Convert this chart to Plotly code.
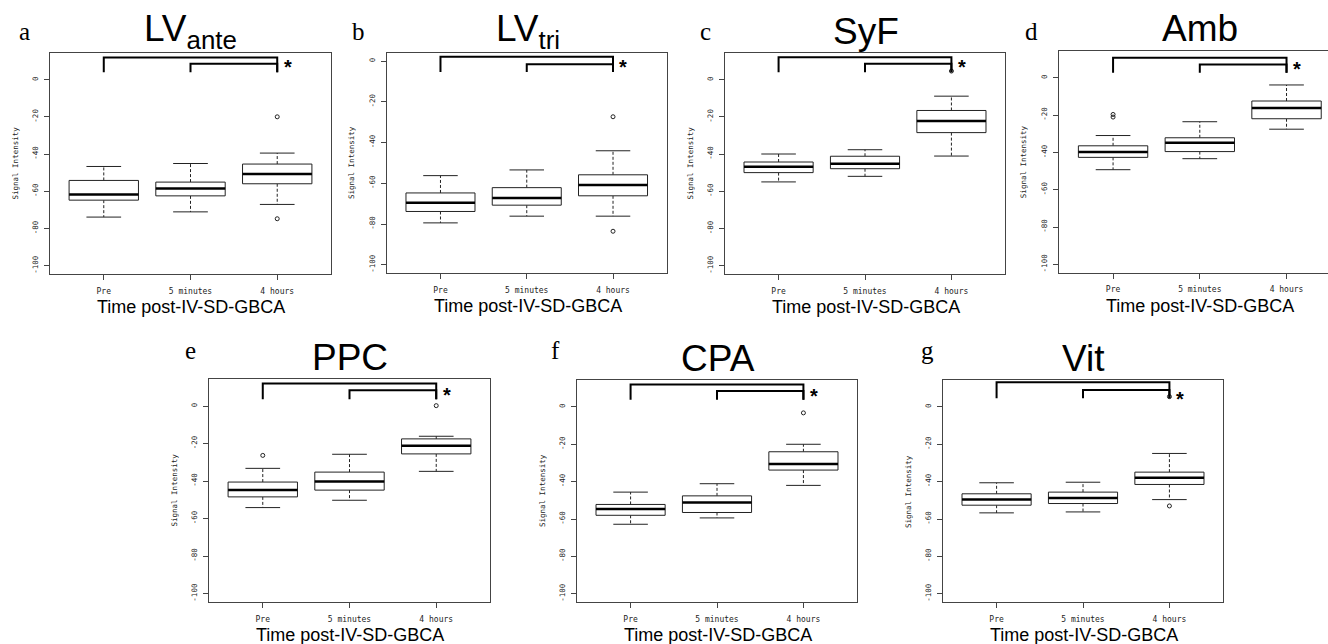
import plotly.graph_objects as go

W, H = 1328, 644

groups = ["Pre", "5 minutes", "4 hours"]
panel_letters = ["a", "b", "c", "d", "e", "f", "g"]
panel_titles = ["LV<sub>ante</sub>", "LV<sub>tri</sub>", "SyF", "Amb", "PPC", "CPA", "Vit"]

# box statistics per panel, each list = [Pre, 5 minutes, 4 hours]
whisker_low = [
    [-73.8, -71.0, -67.0],
    [-79.4, -76.1, -76.1],
    [-54.9, -51.9, -41.0],
    [-49.2, -43.3, -27.5],
    [-54.1, -50.2, -34.8],
    [-62.8, -59.4, -42.0],
    [-56.7, -56.2, -49.6],
]
quart1 = [
    [-64.7, -62.4, -55.9],
    [-73.8, -70.7, -66.1],
    [-49.9, -47.8, -28.4],
    [-42.6, -39.5, -21.9],
    [-48.4, -44.8, -25.5],
    [-58.0, -56.5, -33.8],
    [-52.6, -51.7, -41.5],
]
medians = [
    [-61.6, -58.4, -50.7],
    [-69.5, -67.2, -60.8],
    [-46.7, -45.1, -22.2],
    [-39.7, -34.8, -16.2],
    [-44.8, -40.2, -21.1],
    [-54.6, -51.2, -30.6],
    [-49.6, -48.7, -37.9],
]
quart3 = [
    [-54.1, -55.0, -45.3],
    [-64.7, -62.1, -55.8],
    [-44.2, -41.1, -16.5],
    [-36.4, -32.1, -12.4],
    [-40.5, -35.2, -17.5],
    [-52.2, -47.6, -24.0],
    [-46.5, -45.6, -34.9],
]
whisker_high = [
    [-46.6, -45.0, -39.4],
    [-56.2, -53.4, -44.0],
    [-39.9, -37.6, -8.8],
    [-30.9, -23.5, -3.8],
    [-33.2, -25.7, -16.1],
    [-45.6, -41.1, -20.0],
    [-40.6, -40.3, -24.9],
]
# outliers: (group index, value)
outliers = [
    [(2, -19.9), (2, -74.7)],
    [(2, -27.3), (2, -83.5)],
    [(2, 4.7)],
    [(0, -19.6), (0, -21.0)],
    [(0, -26.3), (2, 0.2)],
    [(2, -3.2)],
    [(2, 5.5), (2, -53.0)],
]
# significance brackets: [leg bottom, inner top, outer top], asterisk y
bracket_levels = [
    [4.0, 8.6, 12.0],
    [-5.3, -1.5, 2.1],
    [4.1, 8.6, 12.1],
    [2.7, 7.2, 10.8],
    [3.6, 8.4, 12.0],
    [3.8, 8.5, 12.0],
    [4.7, 9.1, 13.2],
]
asterisk_y = [9.0, -1.0, 9.2, 6.8, 8.0, 8.0, 6.4]
y_limits = [[-100, 10], [-100, 0], [-100, 10], [-100, 10], [-100, 10], [-100, 10], [-100, 10]]
y_ticks = [0, -20, -40, -60, -80, -100]

# layout in pixels: left, right, top, bottom
panel_px = [
    (50, 331, 53, 274),
    (387, 666.5, 53, 273),
    (725, 1005, 53, 274),
    (1059.3, 1328, 51, 272.7),
    (209, 490, 379, 602),
    (577, 857, 380, 602),
    (943, 1223, 380, 602),
]
letter_px = [(24, 31), (359, 31), (706, 31), (1031, 31), (190, 351), (555, 351), (927, 351)]

fig = go.Figure()
annotations = []
layout_axes = {}

BOXW = 0.4
STAP = 0.2
LC = "#222222"

for i in range(7):
    xa = "x" if i == 0 else f"x{i+1}"
    ya = "y" if i == 0 else f"y{i+1}"
    l, r, t, b = panel_px[i]
    xr0 = 0.38
    unit = (panel_px[0][1] - panel_px[0][0]) / 3.24
    if i == 3:
        xr1 = xr0 + (r - l) / unit
    else:
        xr1 = 3.62
    lo, hi = y_limits[i]
    ext = (hi - lo) * 0.04
    layout_axes["xaxis" if i == 0 else f"xaxis{i+1}"] = dict(
        domain=[l / W, r / W], range=[xr0, xr1], anchor=ya,
        tickvals=[1, 2, 3], ticktext=groups, ticks="outside", ticklen=5,
        ticklabelstandoff=4,
        tickcolor="#444", showline=True, mirror=True, linecolor="#444", linewidth=1,
        showgrid=False, zeroline=False,
        tickfont=dict(family="DejaVu Sans Mono", size=8, color="#222"),
    )
    layout_axes["yaxis" if i == 0 else f"yaxis{i+1}"] = dict(
        domain=[1 - b / H, 1 - t / H], range=[lo - ext, hi + ext], anchor=xa,
        tickvals=y_ticks, ticktext=[str(v) for v in y_ticks], tickangle=-90,
        ticks="outside", ticklen=5, tickcolor="#444", ticklabelstandoff=3,
        showline=True, mirror=True, linecolor="#444", linewidth=1,
        showgrid=False, zeroline=False,
        tickfont=dict(family="DejaVu Sans Mono", size=7.5, color="#222"),
    )

    # boxes
    bx, by, mx, my, wx, wy, sx, sy = [], [], [], [], [], [], [], []
    for j in range(3):
        x = j + 1
        bx += [x - BOXW, x + BOXW, x + BOXW, x - BOXW, x - BOXW, None]
        by += [quart1[i][j], quart1[i][j], quart3[i][j], quart3[i][j], quart1[i][j], None]
        mx += [x - BOXW, x + BOXW, None]
        my += [medians[i][j], medians[i][j], None]
        wx += [x, x, None, x, x, None]
        wy += [quart3[i][j], whisker_high[i][j], None, quart1[i][j], whisker_low[i][j], None]
        sx += [x - STAP, x + STAP, None, x - STAP, x + STAP, None]
        sy += [whisker_high[i][j], whisker_high[i][j], None, whisker_low[i][j], whisker_low[i][j], None]
    fig.add_trace(go.Scatter(x=wx, y=wy, mode="lines", line=dict(color=LC, width=1, dash="3px,2px"),
                             xaxis=xa, yaxis=ya, hoverinfo="skip", showlegend=False))
    fig.add_trace(go.Scatter(x=sx, y=sy, mode="lines", line=dict(color=LC, width=1),
                             xaxis=xa, yaxis=ya, hoverinfo="skip", showlegend=False))
    fig.add_trace(go.Scatter(x=bx, y=by, mode="lines", line=dict(color=LC, width=1),
                             fill="toself", fillcolor="white",
                             xaxis=xa, yaxis=ya, hoverinfo="skip", showlegend=False))
    fig.add_trace(go.Scatter(x=mx, y=my, mode="lines", line=dict(color="black", width=2.5),
                             xaxis=xa, yaxis=ya, hoverinfo="skip", showlegend=False))
    if outliers[i]:
        fig.add_trace(go.Scatter(x=[g + 1 for g, v in outliers[i]], y=[v for g, v in outliers[i]],
                                 mode="markers",
                                 marker=dict(symbol="circle-open", size=4, color=LC, line=dict(width=1)),
                                 xaxis=xa, yaxis=ya, hoverinfo="skip", showlegend=False))
    # brackets
    leg, inner, outer = bracket_levels[i]
    fig.add_trace(go.Scatter(x=[1, 1, 3, 3, None, 2, 2, 3, 3],
                             y=[leg, outer, outer, leg, None, leg, inner, inner, leg],
                             mode="lines", line=dict(color="black", width=2),
                             xaxis=xa, yaxis=ya, hoverinfo="skip", showlegend=False))
    annotations.append(dict(x=3.12, y=asterisk_y[i], xref=xa, yref=ya, text="<b>*</b>",
                            showarrow=False, xanchor="center", yanchor="middle", yshift=-4,
                            font=dict(family="Liberation Sans", size=20, color="black")))

    cx = (panel_px[i][0] + (panel_px[i][0] + 3.24 * unit)) / 2
    # title
    annotations.append(dict(x=cx / W, y=1 - (t - 22) / H, xref="paper", yref="paper",
                            text=panel_titles[i], showarrow=False, xanchor="center", yanchor="middle",
                            font=dict(family="Liberation Sans", size=37, color="black")))
    # letter
    lx, ly = letter_px[i]
    annotations.append(dict(x=lx / W, y=1 - ly / H, xref="paper", yref="paper",
                            text=panel_letters[i], showarrow=False, xanchor="center", yanchor="middle",
                            font=dict(family="Liberation Serif", size=25, color="black")))
    # x title
    annotations.append(dict(x=cx / W, y=1 - (b + 33) / H, xref="paper", yref="paper",
                            text="Time post-IV-SD-GBCA", showarrow=False, xanchor="center", yanchor="middle",
                            font=dict(family="Liberation Sans", size=18, color="black")))
    # y title
    annotations.append(dict(x=(l - 35) / W, y=1 - ((t + b) / 2) / H, xref="paper", yref="paper",
                            text="Signal Intensity", showarrow=False, textangle=-90,
                            xanchor="center", yanchor="middle",
                            font=dict(family="DejaVu Sans Mono", size=7.5, color="#222")))

fig.update_layout(
    width=W, height=H, margin=dict(l=0, r=0, t=0, b=0),
    paper_bgcolor="white", plot_bgcolor="white",
    annotations=annotations, showlegend=False,
    **layout_axes,
)
fig.write_html("out.html", config={"displayModeBar": False},
               post_script="document.body.style.margin='0';document.body.style.overflow='hidden';")
